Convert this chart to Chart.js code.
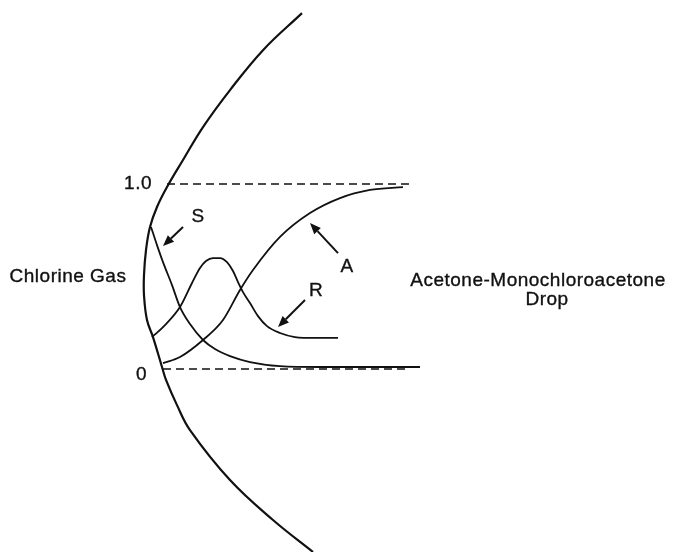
<!DOCTYPE html>
<html>
<head>
<meta charset="utf-8">
<script src="https://cdn.jsdelivr.net/npm/chart.js@4/dist/chart.umd.min.js"></script>
<style>
  html, body { margin: 0; padding: 0; background: #ffffff; }
  #wrap { width: 673px; height: 552px; }
</style>
</head>
<body>
<div id="wrap"><canvas id="c" width="673" height="552"></canvas></div>
<script>
// Gas–liquid interface (drop surface): position against the concentration scale
const interfaceX = [302, 263, 230, 203, 183, 167, 157, 150, 146, 144, 144, 147, 153, 162, 166, 177, 190, 230, 273, 313];
const interfaceY = [1.924, 1.724, 1.508, 1.308, 1.130, 0.984, 0.876, 0.768, 0.643, 0.508, 0.400, 0.265, 0.173, 0.011, -0.059, -0.195, -0.330, -0.600, -0.816, -0.989];

// S profile: falls from the surface value to a small bulk level
const sX = [151, 157, 163, 172, 180, 190, 203, 215, 230, 250, 280, 320, 370, 420];
const sY = [0.768, 0.670, 0.578, 0.454, 0.335, 0.243, 0.157, 0.108, 0.070, 0.038, 0.016, 0.011, 0.011, 0.011];

// R profile: peaks just inside the drop
const rX = [152, 163, 180, 192, 200, 206, 213, 220, 227, 233, 238, 243, 250, 258, 267, 280, 295, 315, 338];
const rY = [0.173, 0.227, 0.335, 0.465, 0.546, 0.584, 0.600, 0.600, 0.578, 0.530, 0.470, 0.416, 0.357, 0.286, 0.232, 0.195, 0.173, 0.168, 0.168];

// A profile: rises towards the bulk value 1.0
const aX = [163, 180, 203, 223, 240, 253, 280, 310, 340, 370, 403];
const aY = [0.032, 0.065, 0.157, 0.265, 0.427, 0.535, 0.714, 0.843, 0.924, 0.968, 0.984];

// Reference levels (dashed) and their labels
const levelValues = [1.0, 0];
const levelLabels = ['1.0', '0'];
const levelStartX = [167, 163];
const levelEndX = [410, 405];

// Curve names used on the arrows, and the two phases
const curveNames = ['S', 'A', 'R'];
const phaseNames = ['Chlorine Gas', 'Acetone-Monochloroacetone', 'Drop'];

const ink = '#111111';
const pts = (xs, ys) => xs.map((v, i) => ({ x: v, y: ys[i] }));

// Annotation layout (data units)
const notes = {
  arrows: [
    { tail: [183, 0.768], tip: [163, 0.665] },
    { tail: [338, 0.627], tip: [310, 0.789] },
    { tail: [305, 0.373], tip: [278, 0.227] }
  ],
  names: [[198, 0.822], [347, 0.551], [316, 0.422]],
  levelLabelPos: [[152, 1.0], [147, -0.03]],
  phasePos: [[68, 0.497], [538, 0.476], [547, 0.373]]
};

const diagramNotes = {
  id: 'diagramNotes',
  afterDatasetsDraw(chart) {
    const { ctx, scales: { x, y } } = chart;
    ctx.save();
    ctx.fillStyle = ink;
    ctx.strokeStyle = ink;
    notes.arrows.forEach(a => {
      const x0 = x.getPixelForValue(a.tail[0]), y0 = y.getPixelForValue(a.tail[1]);
      const x1 = x.getPixelForValue(a.tip[0]), y1 = y.getPixelForValue(a.tip[1]);
      const ang = Math.atan2(y1 - y0, x1 - x0);
      const hl = 11, hw = 4.5;
      const bx = x1 - hl * Math.cos(ang), by = y1 - hl * Math.sin(ang);
      ctx.lineWidth = 2;
      ctx.beginPath(); ctx.moveTo(x0, y0); ctx.lineTo(bx, by); ctx.stroke();
      ctx.beginPath();
      ctx.moveTo(x1, y1);
      ctx.lineTo(bx + hw * Math.sin(ang), by - hw * Math.cos(ang));
      ctx.lineTo(bx - hw * Math.sin(ang), by + hw * Math.cos(ang));
      ctx.closePath(); ctx.fill();
    });
    ctx.font = '19px "Liberation Sans", Arial, sans-serif';
    ctx.letterSpacing = '0.5px';
    ctx.textBaseline = 'middle';
    ctx.lineWidth = 0.35;
    const put = (t, p) => {
      const px = x.getPixelForValue(p[0]), py = y.getPixelForValue(p[1]);
      ctx.fillText(t, px, py);
      ctx.strokeText(t, px, py);
    };
    ctx.textAlign = 'center';
    curveNames.forEach((n, i) => put(n, notes.names[i]));
    ctx.textAlign = 'right';
    levelLabels.forEach((t, i) => put(t, notes.levelLabelPos[i]));
    ctx.textAlign = 'center';
    phaseNames.forEach((t, i) => put(t, notes.phasePos[i]));
    ctx.restore();
  }
};

const levelSets = levelValues.map((v, i) => ({
  data: [{ x: levelStartX[i], y: v }, { x: levelEndX[i], y: v }],
  borderColor: ink, borderWidth: 1.6, borderDash: [8, 5], pointRadius: 0, tension: 0
}));

const curve = (xs, ys) => ({
  data: pts(xs, ys), borderColor: ink, borderWidth: 1.8, pointRadius: 0,
  cubicInterpolationMode: 'monotone'
});

new Chart(document.getElementById('c'), {
  type: 'line',
  data: {
    datasets: [
      ...levelSets,
      curve(sX, sY),
      curve(rX, rY),
      curve(aX, aY),
      {
        data: pts(interfaceX, interfaceY), borderColor: ink, borderWidth: 2.2, pointRadius: 0,
        tension: 0.4
      }
    ]
  },
  options: {
    responsive: false,
    animation: false,
    layout: { padding: 0 },
    plugins: { legend: { display: false }, tooltip: { enabled: false } },
    scales: {
      x: { type: 'linear', min: 0, max: 673, display: false },
      y: { type: 'linear', min: -0.989, max: 1.995, display: false }
    }
  },
  plugins: [diagramNotes]
});
</script>
</body>
</html>
